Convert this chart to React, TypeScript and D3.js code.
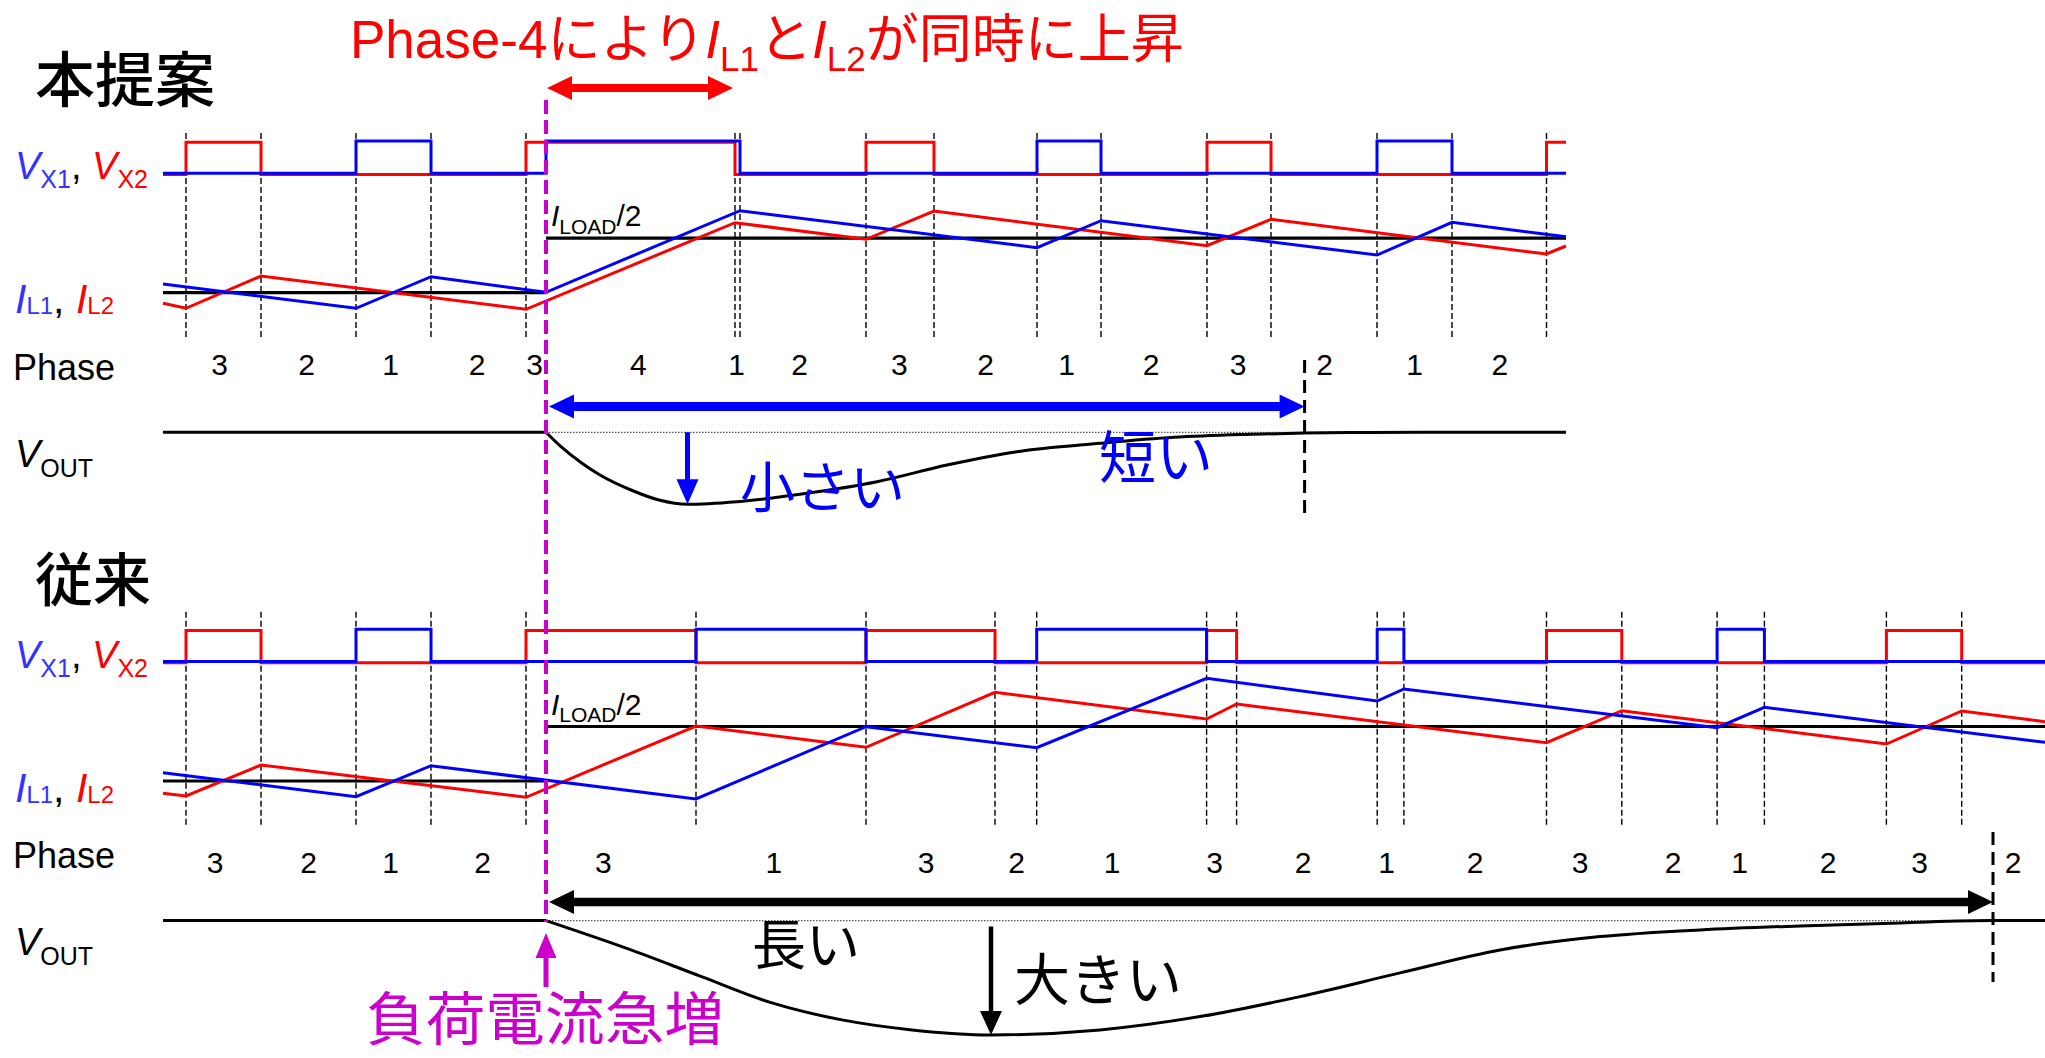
import React, { useEffect } from 'react';
import * as d3 from 'd3';

const W = 2045;
const H = 1058;

// time axis, arbitrary units
const T_END = 188.2;
const TOP_END = 140.3;
const T_STEP = 38.3; // load step
const TOP_SETTLE = 114.16;
const BOT_SETTLE = 183.0;

// switching-node high intervals [start, end]
const topVx1High = [[19.3, 26.8], [38.3, 57.7], [87.4, 93.8], [121.4, 128.9]];
const topVx2High = [[2.3, 9.8], [36.3, 57.2], [70.3, 77.1], [104.4, 110.8], [138.35, 140.3]];
const botVx1High = [[19.3, 26.8], [53.3, 70.3], [87.37, 104.36], [121.42, 124.09], [155.41, 160.14]];
const botVx2High = [[2.3, 9.8], [36.3, 53.3], [70.3, 83.2], [104.36, 107.36], [138.35, 145.88], [172.34, 179.87]];

// phase boundaries
const topGrid = [2.3, 9.8, 19.3, 26.8, 36.3, 57.2, 57.7, 70.3, 77.1, 87.4, 93.8, 104.4, 110.8, 121.4, 128.9, 138.35];
const botGrid = [2.3, 9.8, 19.3, 26.8, 36.3, 53.3, 70.3, 83.2, 87.37, 104.36, 107.36, 121.42, 124.09, 138.35, 145.88, 155.41, 160.14, 172.34, 179.87];

// inductor currents [t, I]
const topIL1 = [[0, 0.87], [19.3, -1.56], [26.8, 1.6], [38.3, 0.04], [57.7, 8.2], [87.4, 4.5], [93.8, 7.2], [121.4, 3.77], [128.9, 7.04], [140.3, 5.6]];
const topIL2 = [[0, -1.06], [2.3, -1.56], [9.8, 1.67], [36.3, -1.66], [57.2, 7.0], [70.3, 5.34], [77.1, 8.17], [104.4, 4.7], [110.8, 7.34], [138.35, 3.87], [140.3, 4.67]];
const botIL1 = [[0, 0.83], [19.3, -1.57], [26.8, 1.53], [53.3, -1.8], [70.3, 5.43], [87.37, 3.33], [104.36, 10.27], [121.42, 8.0], [124.09, 9.2], [155.41, 5.33], [160.14, 7.37], [188.2, 3.87]];
const botIL2 = [[0, -1.23], [2.3, -1.5], [9.8, 1.6], [36.3, -1.63], [53.3, 5.5], [70.3, 3.37], [83.2, 8.87], [104.36, 6.2], [107.36, 7.7], [138.35, 3.83], [145.88, 7.03], [172.34, 3.7], [179.87, 7.0], [188.2, 5.93]];
const I_PRE = 0;
const I_HALF = 5.45;

// output voltage deviation [t, dV]
const topVout = [[38.3, 0], [39.8, -1.44], [41.9, -3.1], [43.7, -4.27], [46.8, -5.77], [49.6, -6.77], [52.45, -7.2], [57.4, -6.94], [64.4, -6.1], [71.4, -4.94], [78.4, -3.27], [85.4, -1.94], [93.7, -1.1], [101.1, -0.5], [108, -0.22], [114.1, -0.08], [120.6, -0.02], [126, 0], [140.3, 0]];
const botVout = [[38.3, 0], [46.8, -2.93], [53.85, -5.6], [60.9, -8.23], [67.9, -9.93], [74.9, -10.93], [82.8, -11.43], [93.7, -10.93], [103.7, -9.6], [113.7, -7.6], [123.7, -5.23], [133.7, -2.93], [143.7, -1.6], [153.7, -0.93], [163.7, -0.53], [173.7, -0.23], [183, 0], [188.2, 0]];
const TOP_DIP_T = 52.45;
const BOT_DIP_T = 82.8;

// phase labels
const topPhases = ['3', '2', '1', '2', '3', '4', '1', '2', '3', '2', '1', '2', '3', '2', '1', '2'];
const topPhaseT = [5.66, 14.37, 22.77, 31.4, 37.16, 47.54, 57.36, 63.67, 73.63, 82.26, 90.36, 98.8, 107.5, 116.16, 125.15, 133.68];
const botPhases = ['3', '2', '1', '2', '3', '1', '3', '2', '1', '3', '2', '1', '2', '3', '2', '1', '2', '3', '2'];
const botPhaseT = [5.2, 14.57, 22.77, 31.96, 44.03, 61.08, 76.3, 85.37, 94.9, 105.16, 114, 122.35, 131.2, 141.7, 151, 157.67, 166.5, 175.67, 185];

const LATIN = "'Liberation Sans', Arial, Helvetica, sans-serif";
const CJK = "'Noto Sans CJK JP', 'Noto Sans CJK SC', sans-serif";
const MIX = "'Liberation Sans', Arial, 'Noto Sans CJK JP', sans-serif";
const BLUE = '#0000ff';
const RED = '#ff0000';
const LBLUE = '#3333ff';
const MAG = '#cc00cc';

function sq(intervals: number[][], end: number) {
  const pts: [number, number][] = [[0, 0]];
  for (const [a, b] of intervals) {
    pts.push([a, 0], [a, 1], [b, 1]);
    if (b < end) pts.push([b, 0]);
  }
  const lastB = intervals[intervals.length - 1][1];
  if (lastB < end) pts.push([end, 0]);
  return pts;
}

function dblArrow(x1: number, x2: number, y: number, s: number, hw: number, hl: number) {
  return `M${x1},${y} L${x1 + hl},${y - hw / 2} L${x1 + hl},${y - s / 2} L${x2 - hl},${y - s / 2} L${x2 - hl},${y - hw / 2} L${x2},${y} L${x2 - hl},${y + hw / 2} L${x2 - hl},${y + s / 2} L${x1 + hl},${y + s / 2} L${x1 + hl},${y + hw / 2} Z`;
}

function vArrow(x: number, yTail: number, yTip: number, s: number, hw: number, hl: number) {
  const d = yTip > yTail ? 1 : -1;
  const yb = yTip - d * hl;
  return `M${x - s / 2},${yTail} L${x + s / 2},${yTail} L${x + s / 2},${yb} L${x + hw / 2},${yb} L${x},${yTip} L${x - hw / 2},${yb} L${x - s / 2},${yb} Z`;
}

export default function App() {
  useEffect(() => {
    document.body.style.margin = '0';
    document.body.style.overflow = 'hidden';
  }, []);

  const x = d3.scaleLinear().domain([0, T_END]).range([163, 2045]);

  const panels = [
    { o: 0, end: TOP_END, vx1: topVx1High, vx2: topVx2High, grid: topGrid, gTop: 133, gBot: 338,
      il1: topIL1, il2: topIL2, vout: topVout, phases: topPhases, phaseT: topPhaseT, digitY: 375, phaseY: 380 },
    { o: 488.3, end: T_END, vx1: botVx1High, vx2: botVx2High, grid: botGrid, gTop: 611.7, gBot: 827,
      il1: botIL1, il2: botIL2, vout: botVout, phases: botPhases, phaseT: botPhaseT, digitY: 873, phaseY: 868 },
  ];

  const content = panels.map((p, pi) => {
    const yVx = d3.scaleLinear().domain([0, 1]).range([173.3 + p.o, 141 + p.o]);
    const yI = d3.scaleLinear().domain([0, 10]).range([292.7 + p.o, 192.7 + p.o]);
    const yV = d3.scaleLinear().domain([0, -10]).range([432.3 + p.o, 532.3 + p.o]);
    const sqLine = d3.line<[number, number]>().x(d => x(d[0])).y(d => yVx(d[1]));
    const iLine = d3.line<number[]>().x(d => x(d[0])).y(d => yI(d[1]));
    const vLine = d3.line<number[]>().x(d => x(d[0])).y(d => yV(d[1])).curve(d3.curveMonotoneX);
    const flat = d3.line<number[]>().x(d => x(d[0])).y(d => yV(d[1]));
    return (
      <g key={pi}>
        {p.grid.map((t, i) => (
          <line key={i} x1={x(t)} x2={x(t)} y1={p.gTop} y2={p.gBot} stroke="#000" strokeWidth={1.4} strokeDasharray="6,3" />
        ))}
        {/* reference current lines */}
        <line x1={x(0)} x2={x(T_STEP)} y1={yI(I_PRE)} y2={yI(I_PRE)} stroke="#000" strokeWidth={3.2} />
        <line x1={x(T_STEP)} x2={x(p.end)} y1={yI(I_HALF)} y2={yI(I_HALF)} stroke="#000" strokeWidth={3.2} />
        {/* switching nodes */}
        <path d={sqLine(sq(p.vx2, p.end)) || ''} transform="translate(0,1.2)" fill="none" stroke={RED} strokeWidth={3} />
        <path d={sqLine(sq(p.vx1, p.end)) || ''} fill="none" stroke={BLUE} strokeWidth={3} />
        {/* currents */}
        <path d={iLine(p.il2) || ''} fill="none" stroke={RED} strokeWidth={3} />
        <path d={iLine(p.il1) || ''} fill="none" stroke={BLUE} strokeWidth={3} />
        {/* ILOAD/2 label */}
        <text x={x(T_STEP) + 5} y={yI(I_HALF) - 12} fontFamily={LATIN} fontSize={30} fill="#000">
          <tspan fontStyle="italic">I</tspan>
          <tspan fontSize={21} dy={7.5}>LOAD</tspan>
          <tspan dy={-7.5}>/2</tspan>
        </text>
        {/* Vout */}
        <line x1={x(T_STEP)} x2={x(p.end)} y1={yV(0)} y2={yV(0)} stroke="#555" strokeWidth={1.3} strokeDasharray="1.5,1.5" />
        <path d={flat([[0, 0], [T_STEP, 0]]) || ''} fill="none" stroke="#000" strokeWidth={3} />
        <path d={vLine(p.vout) || ''} fill="none" stroke="#000" strokeWidth={3} />
        {/* phase labels */}
        <text x={13} y={p.phaseY} fontFamily={LATIN} fontSize={36} fill="#000">Phase</text>
        {p.phases.map((s, i) => (
          <text key={i} x={x(p.phaseT[i])} y={p.digitY} textAnchor="middle" fontFamily={LATIN} fontSize={30} fill="#000">{s}</text>
        ))}
        {/* left labels */}
        <text x={15} y={179.3 + p.o} fontFamily={LATIN} fontSize={38}>
          <tspan fill={LBLUE} fontStyle="italic">V</tspan>
          <tspan fill={LBLUE} fontSize={25} dy={9}>X1</tspan>
          <tspan fill="#000" dy={-9}>, </tspan>
          <tspan fill={RED} fontStyle="italic">V</tspan>
          <tspan fill={RED} fontSize={25} dy={9}>X2</tspan>
        </text>
        <text x={15} y={313.3 + p.o} fontFamily={LATIN} fontSize={41}>
          <tspan fill={LBLUE} fontStyle="italic">I</tspan>
          <tspan fill={LBLUE} fontSize={24} dy={1}>L1</tspan>
          <tspan fill="#000" fontSize={41} dy={-1}>, </tspan>
          <tspan fill={RED} fontStyle="italic">I</tspan>
          <tspan fill={RED} fontSize={24} dy={1}>L2</tspan>
        </text>
        <text x={15} y={466.7 + p.o} fontFamily={LATIN} fontSize={38} fill="#000">
          <tspan fontStyle="italic">V</tspan>
          <tspan fontSize={25} dy={10}>OUT</tspan>
        </text>
      </g>
    );
  });

  const yVtop = d3.scaleLinear().domain([0, -10]).range([432.3, 532.3]);
  const yVbot = d3.scaleLinear().domain([0, -10]).range([920.6, 1020.6]);

  return (
    <svg width={W} height={H} style={{ display: 'block', position: 'absolute', left: 0, top: 0, background: '#fff' }}>
      <rect x={0} y={0} width={W} height={H} fill="#fff" />
      {content}

      {/* titles */}
      <text x={35} y={102} fontFamily={CJK} fontSize={60} fontWeight={500} fill="#000">本提案</text>
      <text x={35} y={601} fontFamily={CJK} fontSize={58} fontWeight={500} fill="#000">従来</text>
      <text x={350} y={58} fontFamily={MIX} fontSize={53} fill={RED}>
        Phase-4により<tspan fontStyle="italic">I</tspan>
        <tspan fontSize={35} dy={13}>L1</tspan>
        <tspan dy={-13}>と</tspan>
        <tspan fontStyle="italic">I</tspan>
        <tspan fontSize={35} dy={13}>L2</tspan>
        <tspan dy={-13}>が同時に上昇</tspan>
      </text>

      {/* red arrow: phase-4 duration */}
      <path d={dblArrow(x(38.4), x(57.0), 88, 8, 24, 25)} fill={RED} />

      {/* top settle arrows */}
      <path d={dblArrow(x(T_STEP) + 3, x(TOP_SETTLE), 406.5, 9, 24, 25)} fill={BLUE} />
      <line x1={x(TOP_SETTLE)} x2={x(TOP_SETTLE)} y1={360} y2={513} stroke="#000" strokeWidth={3} strokeDasharray="13,7" />
      <path d={vArrow(x(TOP_DIP_T), yVtop(0), yVtop(-7.2), 5, 22, 25)} fill={BLUE} />
      <text x={740} y={507} fontFamily={CJK} fontSize={55} fill={BLUE}>小さい</text>
      <text x={1099} y={478} fontFamily={CJK} fontSize={57} fill={BLUE}>短い</text>

      {/* bottom settle arrows */}
      <path d={dblArrow(x(T_STEP) + 3, x(BOT_SETTLE), 902, 8.5, 24, 25)} fill="#000" />
      <line x1={x(BOT_SETTLE)} x2={x(BOT_SETTLE)} y1={832} y2={982} stroke="#000" strokeWidth={3} strokeDasharray="13,7" />
      <path d={vArrow(x(BOT_DIP_T), yVbot(0) + 6, yVbot(-11.43), 4.5, 22, 24)} fill="#000" />
      <text x={752} y={965} fontFamily={CJK} fontSize={54} fill="#000">長い</text>
      <text x={1014} y={1000} fontFamily={CJK} fontSize={56} fill="#000">大きい</text>

      {/* load step marker */}
      <line x1={x(T_STEP)} x2={x(T_STEP)} y1={100} y2={922} stroke={MAG} strokeWidth={4} strokeDasharray="14,6" />
      <path d={vArrow(x(T_STEP), 987, 933, 5, 21, 25)} fill={MAG} />
      <text x={366} y={1040} fontFamily={CJK} fontSize={58} fill={MAG} textLength={358} lengthAdjust="spacingAndGlyphs">負荷電流急増</text>
    </svg>
  );
}
